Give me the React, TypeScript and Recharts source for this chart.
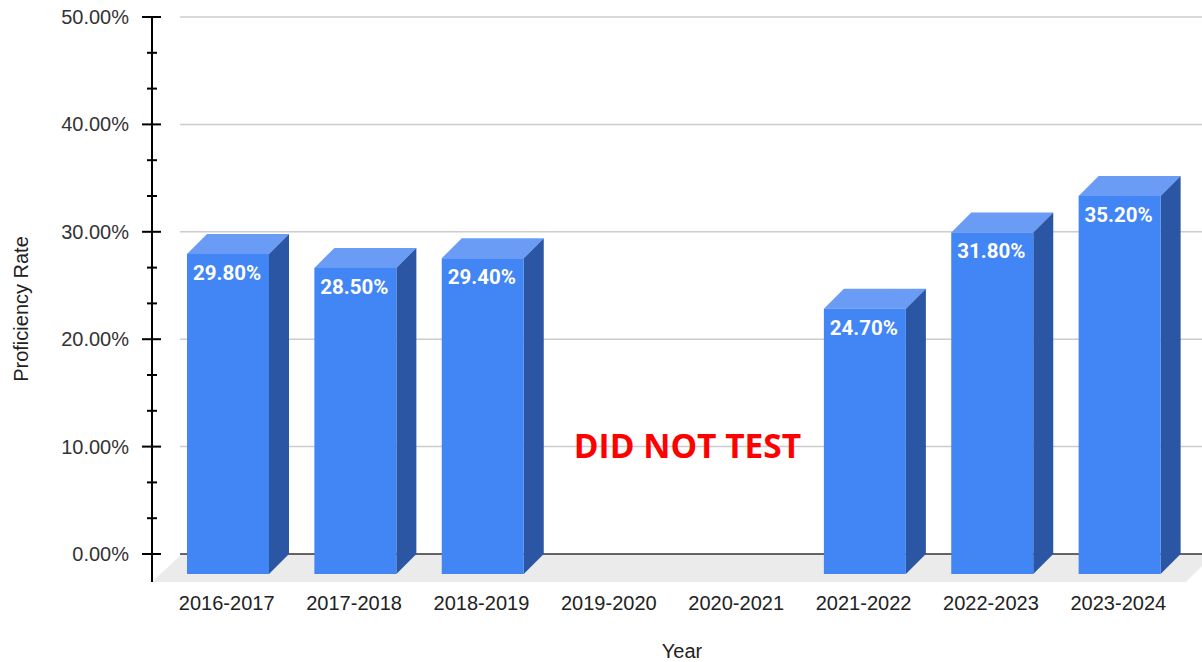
import { Bar, BarChart, CartesianGrid, LabelList, ReferenceArea, XAxis, YAxis } from "recharts"

const years = ['2016-2017', '2017-2018', '2018-2019', '2019-2020', '2020-2021', '2021-2022', '2022-2023', '2023-2024']
const rates: (number | null)[] = [29.8, 28.5, 29.4, null, null, 24.7, 31.8, 35.2]
const majorTicks = [0, 10, 20, 30, 40, 50]
const noteText = 'DID NOT TEST'

// 2 minor ticks between each pair of major ticks
const allTicks = majorTicks.flatMap((t, i) =>
  i < majorTicks.length - 1 ? [t, t + 10 / 3, t + 20 / 3] : [t]
)

const data = years.map((year, i) => ({ year, rate: rates[i] }))

const DEPTH = 20
const FRONT = '#4285f4'
const TOP = '#6a9cf6'
const SIDE = '#2b56a3'
const FONT = "'Liberation Sans', Arial, sans-serif"

const Bar3D = (props: any) => {
  const { x, y, width, height, value } = props
  if (value == null) return null
  const fy = y + DEPTH
  return (
    <g>
      <polygon
        points={`${x},${fy} ${x + DEPTH},${y} ${x + width + DEPTH},${y} ${x + width},${fy}`}
        fill={TOP}
      />
      <polygon
        points={`${x + width},${fy} ${x + width + DEPTH},${y} ${x + width + DEPTH},${y + height} ${x + width},${y + height + DEPTH}`}
        fill={SIDE}
      />
      <rect x={x} y={fy} width={width} height={height} fill={FRONT} />
    </g>
  )
}

const BarValue = (props: any) => {
  const { x, y, width, value } = props
  if (value == null) return null
  return (
    <text
      x={x + width / 2 - 1}
      y={y + DEPTH + 26}
      textAnchor="middle"
      fill="#fff"
      fontFamily="Roboto, Arial, sans-serif"
      fontWeight={700}
      fontSize={20.5}
    >
      {`${Number(value).toFixed(2)}%`}
    </text>
  )
}

const GridLine = (props: any) => (
  <line key={props.key} x1={props.x1 + 28} y1={props.y1} x2={props.x2} y2={props.y2} stroke="#cccccc" strokeWidth={1.5} />
)

const FloorLine = (props: any) => {
  const { x1, x2, y1 } = props
  return (
    <g key={props.key}>
      <polygon
        points={`${x1 + 30},${y1} ${x2 + 12},${y1} ${x2 - 16},${y1 + 28} ${x1},${y1 + 28}`}
        fill="#ebebeb"
      />
      <line x1={x1 + 28} y1={y1} x2={x2} y2={y1} stroke="#333" strokeWidth={1.5} />
    </g>
  )
}

const YTick = (props: any) => {
  const { x, y, payload } = props
  const v = payload.value
  const major = majorTicks.some((t) => Math.abs(t - v) < 0.001)
  return (
    <g>
      {major ? (
        <line x1={x - 10} y1={y} x2={x + 9} y2={y} stroke="#000" strokeWidth={2} />
      ) : (
        <line x1={x - 5} y1={y} x2={x + 5} y2={y} stroke="#000" strokeWidth={2} />
      )}
      {major && (
        <text x={x - 23} y={y + 7} textAnchor="end" fill="#333" fontFamily={FONT} fontSize={20}>
          {`${v.toFixed(2)}%`}
        </text>
      )}
    </g>
  )
}

const XTick = (props: any) => {
  const { x, y, payload } = props
  return (
    <text x={x - 1} y={y + 28} textAnchor="middle" fill="#222" fontFamily={FONT} fontSize={20}>
      {payload.value}
    </text>
  )
}

export default function App() {
  return (
    <div style={{ width: 1202, height: 662, background: '#fff' }}>
      <style>{'body{margin:0}'}</style>
      <BarChart
        width={1202}
        height={662}
        data={data}
        margin={{ top: 17, right: 0, bottom: 0, left: 0 }}
      >
        <CartesianGrid vertical={false} horizontalValues={[10, 20, 30, 40, 50]} horizontal={GridLine} />
        <CartesianGrid vertical={false} horizontalValues={[0]} horizontal={FloorLine} />
        <XAxis
          dataKey="year"
          height={80}
          padding={{ left: 12, right: 19 }}
          axisLine={false}
          tickLine={false}
          tickSize={0}
          tickMargin={0}
          interval={0}
          tick={XTick}
          label={({ viewBox }: any) => (
            <text
              x={viewBox.x + viewBox.width / 2 + 5}
              y={viewBox.y + 76}
              textAnchor="middle"
              fill="#222"
              fontFamily={FONT}
              fontSize={20}
            >
              Year
            </text>
          )}
        />
        <YAxis
          width={152}
          domain={[0, 50]}
          ticks={allTicks}
          padding={{ top: 0, bottom: 28 }}
          axisLine={{ stroke: '#000', strokeWidth: 2 }}
          tickLine={false}
          tickSize={0}
          tickMargin={0}
          interval={0}
          tick={YTick}
          label={() => (
            <text
              x={21}
              y={309}
              transform="rotate(-90 21 309)"
              textAnchor="middle"
              dominantBaseline="central"
              fill="#222"
              fontFamily={FONT}
              fontSize={20}
            >
              Proficiency Rate
            </text>
          )}
        />
        <ReferenceArea
          x1="2019-2020"
          x2="2020-2021"
          y1={0}
          y2={20}
          fillOpacity={0}
          strokeOpacity={0}
          label={({ viewBox }: any) => (
            <text
              x={viewBox.x + viewBox.width / 2 + 14}
              y={viewBox.y + viewBox.height / 2 + 11}
              textAnchor="middle"
              fill="#ff0000"
              fontFamily="'Open Sans', sans-serif"
              fontWeight={700}
              fontSize={33.5}
            >
              {noteText}
            </text>
          )}
        />
        <Bar dataKey="rate" barSize={82} shape={Bar3D} isAnimationActive={false}>
          <LabelList dataKey="rate" content={BarValue} />
        </Bar>
      </BarChart>
    </div>
  )
}
